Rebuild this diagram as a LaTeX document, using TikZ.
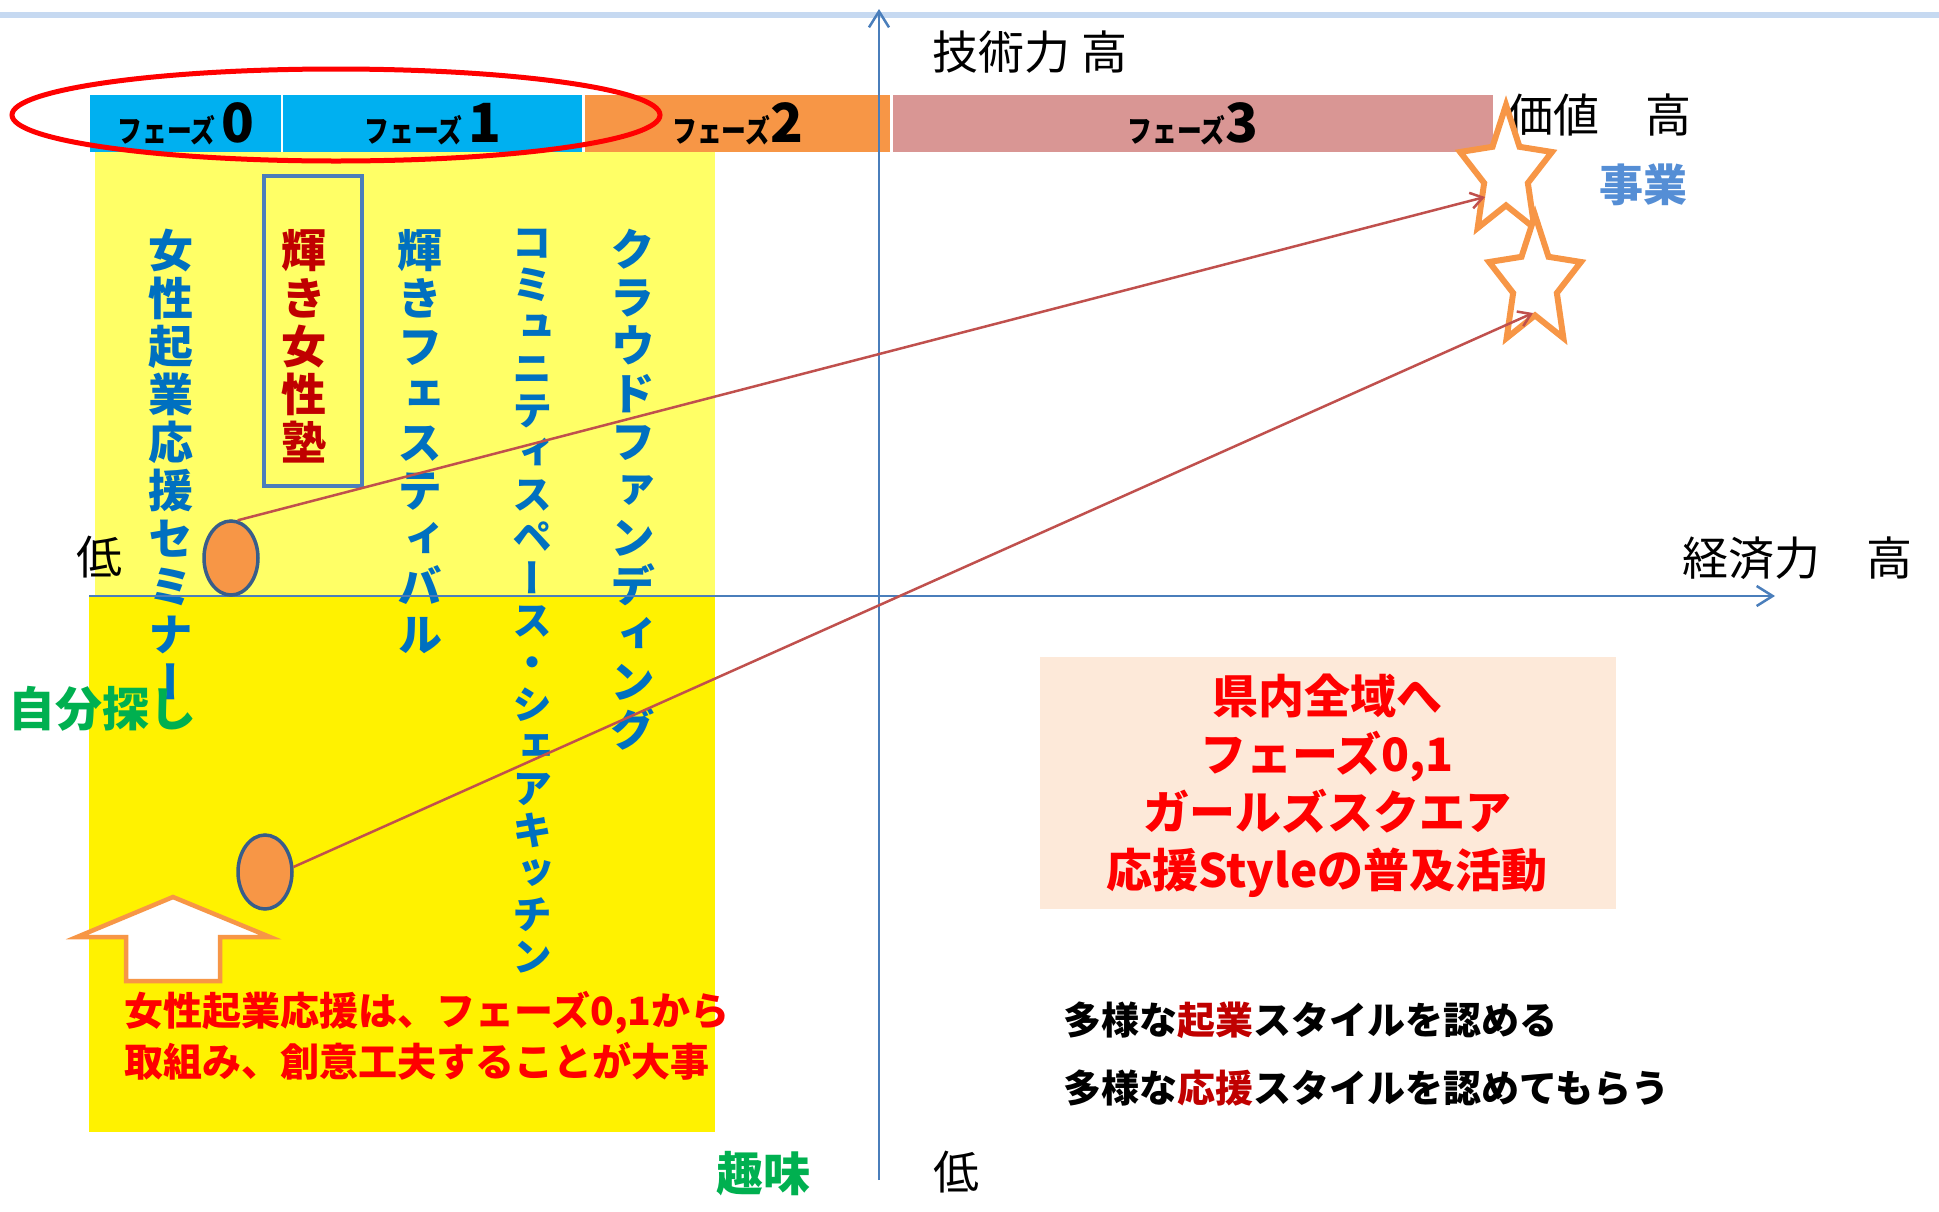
\documentclass[tikz,border=0pt]{standalone}
\usepackage{fontspec}
\setmainfont{Noto Sans CJK JP}
\newfontfamily\tatefont{Noto Sans CJK JP}[RawFeature=+vert]
\newfontfamily\narrowfont{Noto Sans CJK JP}[FakeStretch=0.8]
\usetikzlibrary{arrows.meta,shapes.geometric}

\definecolor{axisblue}{RGB}{74,126,187}
\definecolor{toplineblue}{RGB}{198,217,241}
\definecolor{phasecyan}{RGB}{0,176,240}
\definecolor{phaseorange}{RGB}{247,150,70}
\definecolor{phasepink}{RGB}{217,150,148}
\definecolor{paleyellow}{RGB}{255,255,102}
\definecolor{peach}{RGB}{253,233,217}
\definecolor{textblue}{RGB}{0,112,192}
\definecolor{darkred}{RGB}{192,0,0}
\definecolor{linkred}{RGB}{192,80,77}
\definecolor{ovalborder}{RGB}{56,93,138}
\definecolor{hobbygreen}{RGB}{0,176,80}
\definecolor{bizblue}{RGB}{85,142,213}

\newcommand\fsz[2]{\fontsize{#1}{#2}\selectfont}

\begin{document}
\begin{tikzpicture}[
  x=1pt, y=-1pt,
  axis/.style={draw=axisblue,line width=2.5pt,-{Straight Barb[length=16pt,width=20pt,line width=2.5pt]}},
  link/.style={draw=linkred,line width=2.5pt,-{Straight Barb[length=12pt,width=16pt]}},
  cell/.style={anchor=north west,minimum height=57pt,inner sep=0pt,font=\bfseries},
  tate/.style={anchor=north,align=center,inner sep=0pt,text=textblue,font=\tatefont\bfseries\fsz{45}{48}},
  axlabel/.style={inner sep=0pt,font=\fsz{46}{46}},
  oval/.style={ellipse,draw=ovalborder,fill=phaseorange,line width=3.5pt,minimum width=54pt,minimum height=74pt,inner sep=0pt},
  goal/.style={star,star points=5,star point ratio=2.1,minimum size=136pt,inner sep=0pt,draw=phaseorange,fill=white,line width=6pt,xscale=0.71,transform shape},
  greenword/.style={inner sep=0pt,text=hobbygreen,font=\bfseries\fsz{47}{47}},
]
\useasboundingbox (0,0) rectangle (1939,1211);

% background areas
\draw[toplineblue,line width=6pt] (0,15) -- (1939,15);
\fill[paleyellow] (95,152) rectangle (715,596);
\fill[yellow] (89,596) rectangle (715,1132);

% phase bar
\node[cell,fill=phasecyan,minimum width=191pt] (ph0) at (90,95) {{\narrowfont\fsz{31}{31}フェーズ }{\fsz{54}{54}0}};
\node[cell,fill=phasecyan,minimum width=299pt] (ph1) at (283,95) {{\narrowfont\fsz{31}{31}フェーズ }{\fsz{54}{54}1}};
\node[cell,fill=phaseorange,minimum width=305pt] (ph2) at (585,95) {{\narrowfont\fsz{31}{31}フェーズ}{\fsz{54}{54}2}};
\node[cell,fill=phasepink,minimum width=600pt] (ph3) at (893,95) {{\narrowfont\fsz{31}{31}フェーズ}{\fsz{54}{54}3}};
\node[ellipse,draw=red,line width=5pt,minimum width=648pt,minimum height=92pt] (ring) at (336,115) {};

% vertical titles
\node[tate] (seminar) at (171,229) {女\\性\\起\\業\\応\\援\\セ\\ミ\\ナ\\ー};
\node[draw=axisblue,line width=3.5pt,anchor=north west,minimum width=98pt,minimum height=310pt] (jukubox) at (262,174) {};
\node[tate,text=darkred] (juku) at (304,229) {輝\\き\\女\\性\\塾};
\node[tate] (festa) at (420,229) {輝\\き\\フ\\ェ\\ス\\テ\\ィ\\バ\\ル};
\node[tate,font=\tatefont\bfseries\fsz{40}{42}] (kitchen) at (532,229) {コ\\ミ\\ュ\\ニ\\テ\\ィ\\ス\\ペ\\ー\\ス\\・\\シ\\ェ\\ア\\キ\\ッ\\チ\\ン};
\node[tate] (crowd) at (633,229) {ク\\ラ\\ウ\\ド\\フ\\ァ\\ン\\デ\\ィ\\ン\\グ};

% axes
\coordinate (xstart) at (89,596);
\coordinate (xend) at (1775,596);
\coordinate (ystart) at (879,1180);
\coordinate (yend) at (879,9);
\draw[axis] (xstart) -- (xend);
\draw[axis] (ystart) -- (yend);

\node[axlabel] (techhigh) at (1030,52) {技術力 高};
\node[axlabel] (valuehigh) at (1599,115) {価値　高};
\node[axlabel] (lowleft) at (99,557) {低};
\node[axlabel,anchor=west] (econhigh) at (1682,558) {経済力　高};
\node[axlabel] (lowbottom) at (956,1172) {低};

\node[greenword] (jibun) at (103,709) {自分探し};
\node[greenword] (shumi) at (763,1174) {趣味};
\node[inner sep=0pt,text=bizblue,font=\bfseries\fsz{44}{44}] (jigyo) at (1643,185) {事業};

% stars and links
\node[goal] (star1) at (1506,173) {};
\node[goal] (star2) at (1535,283) {};
\node[oval] (oval1) at (231,558) {};
\node[oval] (oval2) at (265,872) {};
\coordinate (tip1) at (1485,197);
\coordinate (tip2) at (1533,313);
\draw[link] (oval1.80) -- (tip1);
\draw[link] (oval2.10) -- (tip2);

% up arrow
\draw[phaseorange,line width=4.5pt,fill=white,line join=miter]
  (173,897) -- (270,937) -- (220,937) -- (220,981) -- (126,981) -- (126,937) -- (77,937) -- cycle;

\node[anchor=west,align=left,inner sep=0pt,text=red,font=\bfseries\fsz{39}{51}] (advice) at (124,1036)
  {女性起業応援は、フェーズ0,1から\\取組み、創意工夫することが大事};

% right side
\node[anchor=north west,fill=peach,minimum width=576pt,minimum height=252pt] (plan) at (1040,657) {};
\node[align=center,inner sep=0pt,text=red,font=\bfseries\fsz{46}{58}] (plantext) at (1327,786)
  {県内全域へ\\フェーズ0,1\\ガールズスクエア\\応援Styleの普及活動};
\node[anchor=west,inner sep=0pt,font=\bfseries\fsz{38}{38}] (style1) at (1063,1020)
  {多様な\textcolor{darkred}{起業}スタイルを認める};
\node[anchor=west,inner sep=0pt,font=\bfseries\fsz{38}{38}] (style2) at (1063,1088)
  {多様な\textcolor{darkred}{応援}スタイルを認めてもらう};
\end{tikzpicture}
\end{document}
